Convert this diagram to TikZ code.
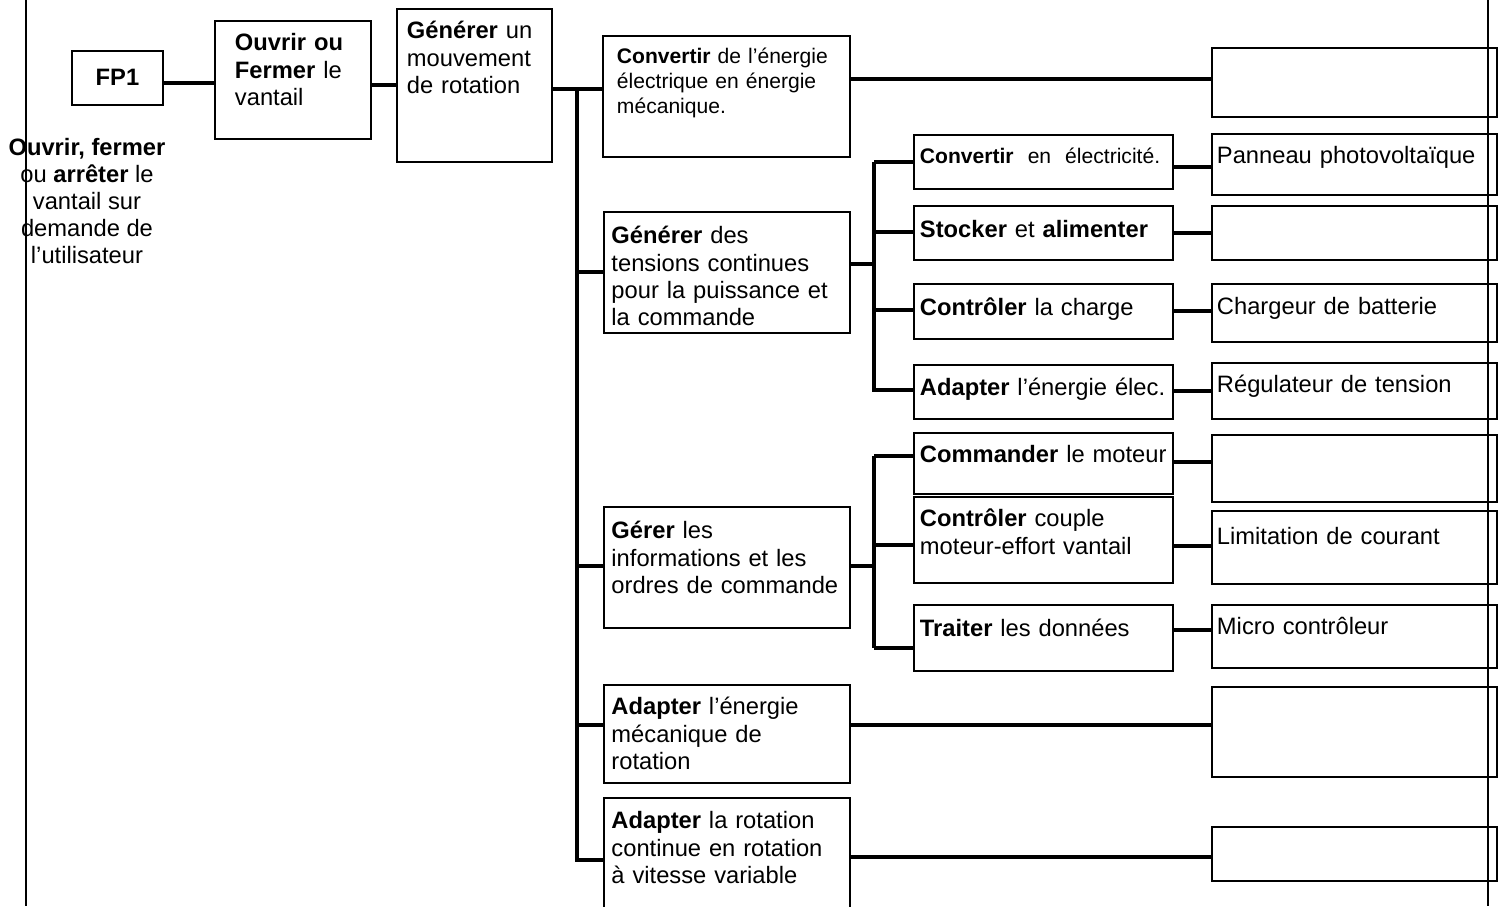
\documentclass[tikz,border=0pt]{standalone}
\usepackage{fontspec}
\setmainfont{Liberation Sans}
\usepackage{tikz}
\usetikzlibrary{positioning,calc}
\hyphenpenalty=10000

\begin{document}
\begin{tikzpicture}[x=0.02cm,y=-0.02cm]

	\tikzset{
	boite/.style={draw, line width=1.1pt, rectangle, anchor=north west, align=left, inner ysep=0pt,
		font=\fontsize{13.5}{15.4}\selectfont},
	petit/.style={font=\fontsize{12}{14.2}\selectfont},
	lien/.style={line width=2.2pt},
	cadre/.style={line width=1.1pt}
}

\useasboundingbox (0,0) rectangle (1504,906);

% colonne de gauche
\node[boite, align=center, text width=1.62cm, inner xsep=0.1cm, text height=0.70cm, text depth=0.38cm] (fp1) at (71,50) {\textbf{FP1}};
\node[boite, text width=2.32cm, inner xsep=0.40cm, text height=0.60cm, text depth=1.76cm] (ouvrir) at (214,20) {\textbf{Ouvrir ou}\\\textbf{Fermer} le\\vantail};
\node[boite, text width=2.70cm, inner xsep=0.20cm, text height=0.60cm, text depth=2.46cm] (genmouv) at (396,8) {\textbf{Générer} un\\mouvement\\de rotation};
\node[anchor=north, align=center, inner sep=0pt, font=\fontsize{13.5}{15.4}\selectfont] (cible) at (87,138) {\textbf{Ouvrir, fermer}\\ou \textbf{arrêter} le\\vantail sur\\demande de\\l’utilisateur};

% fonctions techniques
\node[boite, petit, text width=4.38cm, inner xsep=0.28cm, text height=0.56cm, text depth=1.86cm] (conv) at (602,35) {\textbf{Convertir} de l’énergie\\électrique en énergie\\mécanique.};
\node[boite, text width=4.62cm, inner xsep=0.15cm, text height=0.64cm, text depth=1.78cm] (gentens) at (603,211) {\textbf{Générer} des\\tensions continues\\pour la puissance et\\la commande};
\node[boite, text width=4.62cm, inner xsep=0.15cm, text height=0.64cm, text depth=1.78cm] (gerer) at (603,506) {\textbf{Gérer} les\\informations et les\\ordres de commande};
\node[boite, text width=4.62cm, inner xsep=0.15cm, text height=0.60cm, text depth=1.36cm] (adpmeca) at (603,684) {\textbf{Adapter} l’énergie\\mécanique de\\rotation};
\node[boite, text width=4.62cm, inner xsep=0.15cm, text height=0.62cm, text depth=1.60cm] (adprot) at (603,797) {\textbf{Adapter} la rotation\\continue en rotation\\à vitesse variable};

% sous-fonctions
\node[boite, petit, text width=4.94cm, inner xsep=0.12cm, text height=0.58cm, text depth=0.50cm] (sconv) at (913,134) {\textbf{Convertir}\ \ en\ \ électricité.};
\node[boite, text width=4.94cm, inner xsep=0.12cm, text height=0.64cm, text depth=0.44cm] (sstock) at (913,205) {\textbf{Stocker} et \textbf{alimenter}};
\node[boite, text width=4.94cm, inner xsep=0.12cm, text height=0.64cm, text depth=0.46cm] (sctrl) at (913,283) {\textbf{Contrôler} la charge};
\node[boite, text width=4.94cm, inner xsep=0.12cm, text height=0.62cm, text depth=0.46cm] (sadapt) at (913,364) {\textbf{Adapter} l’énergie élec.};
\node[boite, text width=4.94cm, inner xsep=0.12cm, text height=0.60cm, text depth=0.62cm] (scmd) at (913,432) {\textbf{Commander} le moteur};
\node[boite, text width=4.94cm, inner xsep=0.12cm, text height=0.60cm, text depth=1.12cm] (scouple) at (913,496) {\textbf{Contrôler} couple\\moteur-effort vantail};
\node[boite, text width=4.94cm, inner xsep=0.12cm, text height=0.64cm, text depth=0.68cm] (straite) at (913,604) {\textbf{Traiter} les données};

% solutions techniques
\node[boite, text width=5.50cm, inner xsep=0.1cm, text height=0cm, text depth=1.38cm] (sol1) at (1211,47) {};
\node[boite, text width=5.50cm, inner xsep=0.1cm, text height=0.60cm, text depth=0.62cm] (sol2) at (1211,133) {Panneau photovoltaïque};
\node[boite, text width=5.50cm, inner xsep=0.1cm, text height=0cm, text depth=1.08cm] (sol3) at (1211,205) {};
\node[boite, text width=5.50cm, inner xsep=0.1cm, text height=0.62cm, text depth=0.54cm] (sol4) at (1211,283) {Chargeur de batterie};
\node[boite, text width=5.50cm, inner xsep=0.1cm, text height=0.60cm, text depth=0.52cm] (sol5) at (1211,362) {Régulateur de tension};
\node[boite, text width=5.50cm, inner xsep=0.1cm, text height=0cm, text depth=1.34cm] (sol6) at (1211,434) {};
\node[boite, text width=5.50cm, inner xsep=0.1cm, text height=0.68cm, text depth=0.78cm] (sol7) at (1211,510) {Limitation de courant};
\node[boite, text width=5.50cm, inner xsep=0.1cm, text height=0.60cm, text depth=0.66cm] (sol8) at (1211,604) {Micro contrôleur};
\node[boite, text width=5.50cm, inner xsep=0.1cm, text height=0cm, text depth=1.80cm] (sol9) at (1211,686) {};
\node[boite, text width=5.50cm, inner xsep=0.1cm, text height=0cm, text depth=1.08cm] (sol10) at (1211,826) {};

% barres verticales
\coordinate (bus) at (577,0);
\coordinate (busA) at (874,0);

\draw[lien] (fp1.east |- 0,83) -- (ouvrir.west |- 0,83);
\draw[lien] (ouvrir.east |- 0,85) -- (genmouv.west |- 0,85);
\draw[lien] (genmouv.east |- 0,89) -- (conv.west |- 0,89);
\draw[lien] (bus |- 0,88) -- (bus |- 0,860) -- (adprot.west |- 0,860);
\draw[lien] (bus |- 0,272) -- (gentens.west |- 0,272);
\draw[lien] (bus |- 0,566) -- (gerer.west |- 0,566);
\draw[lien] (bus |- 0,725) -- (adpmeca.west |- 0,725);

\draw[lien] (gentens.east |- 0,264) -- (busA |- 0,264);
\draw[lien] (busA |- 0,162) -- (busA |- 0,392);
\draw[lien] (busA |- 0,162) -- (sconv.west |- 0,162);
\draw[lien] (busA |- 0,232) -- (sstock.west |- 0,232);
\draw[lien] (busA |- 0,310) -- (sctrl.west |- 0,310);
\draw[lien] (busA |- 0,390) -- (sadapt.west |- 0,390);

\draw[lien] (gerer.east |- 0,566) -- (busA |- 0,566);
\draw[lien] (busA |- 0,456) -- (busA |- 0,648);
\draw[lien] (busA |- 0,456) -- (scmd.west |- 0,456);
\draw[lien] (busA |- 0,545) -- (scouple.west |- 0,545);
\draw[lien] (busA |- 0,648) -- (straite.west |- 0,648);

% vers les solutions
\draw[lien] (conv.east |- 0,79) -- (sol1.west |- 0,79);
\draw[lien] (sconv.east |- 0,167) -- (sol2.west |- 0,167);
\draw[lien] (sstock.east |- 0,233) -- (sol3.west |- 0,233);
\draw[lien] (sctrl.east |- 0,311) -- (sol4.west |- 0,311);
\draw[lien] (sadapt.east |- 0,391) -- (sol5.west |- 0,391);
\draw[lien] (scmd.east |- 0,462) -- (sol6.west |- 0,462);
\draw[lien] (scouple.east |- 0,546) -- (sol7.west |- 0,546);
\draw[lien] (straite.east |- 0,630) -- (sol8.west |- 0,630);
\draw[lien] (adpmeca.east |- 0,725) -- (sol9.west |- 0,725);
\draw[lien] (adprot.east |- 0,857) -- (sol10.west |- 0,857);

% traits du cadre
\draw[cadre] (26,0) -- (26,906);
\draw[cadre] (1488,0) -- (1488,906);

\end{tikzpicture}
\end{document}
